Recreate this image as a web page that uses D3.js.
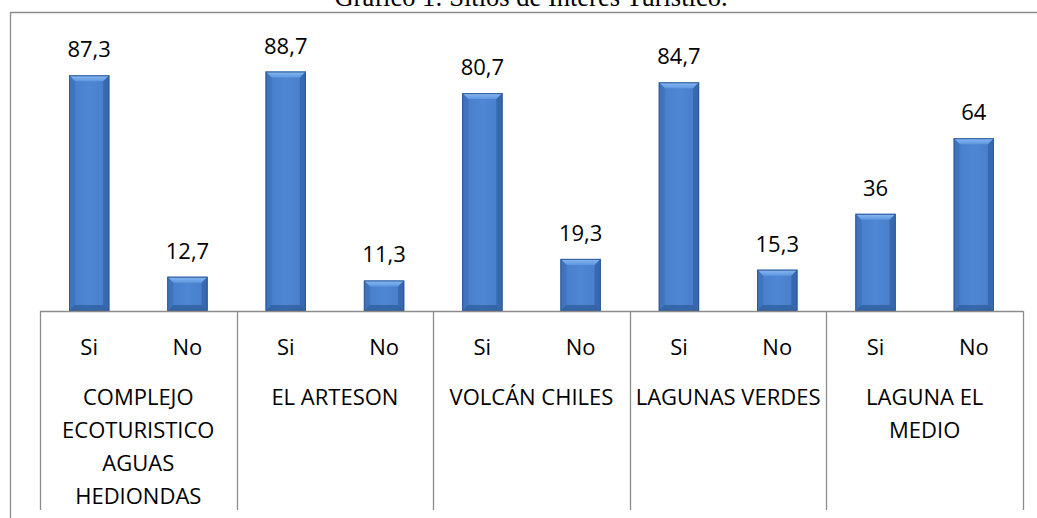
<!DOCTYPE html>
<html>
<head>
<meta charset="utf-8">
<script src="https://cdn.jsdelivr.net/npm/d3@7"></script>
<style>
  html, body { margin: 0; padding: 0; background: #fff; }
  svg { display: block; }
</style>
</head>
<body>
<svg id="chart" width="1037" height="518"></svg>
<script>
const title = "Gráfico 1: Sitios de Interés Turístico.";
const sites = ["COMPLEJO ECOTURISTICO AGUAS HEDIONDAS", "EL ARTESON", "VOLCÁN CHILES", "LAGUNAS VERDES", "LAGUNA EL MEDIO"];
const siteLabelLines = [
  ["COMPLEJO", "ECOTURISTICO", "AGUAS", "HEDIONDAS"],
  ["EL ARTESON"],
  ["VOLCÁN CHILES"],
  ["LAGUNAS VERDES"],
  ["LAGUNA EL", "MEDIO"]
];
const answers = ["Si", "No"];
const siValues = [87.3, 88.7, 80.7, 84.7, 36];
const noValues = [12.7, 11.3, 19.3, 15.3, 64];

const data = [];
sites.forEach((s, i) => {
  data.push({ site: s, answer: "Si", value: siValues[i] });
  data.push({ site: s, answer: "No", value: noValues[i] });
});

const svg = d3.select("#chart");
const W = 1037, H = 518;
const plot = { left: 40, right: 1023, top: 41, bottom: 311, axisBottom: 510 };
const fontSans = "'Open Sans', 'Noto Sans', sans-serif";
const lineColor = "#8c8c8c";

const x0 = d3.scaleBand().domain(sites).range([plot.left, plot.right]).padding(0);
const x1 = d3.scaleBand().domain(answers).range([0, x0.bandwidth()]).paddingInner(0.59).paddingOuter(0.295);
const y = d3.scaleLinear().domain([0, 100]).range([plot.bottom, plot.top]);

// gradients
const defs = svg.append("defs");
const g1 = defs.append("linearGradient").attr("id", "barGrad").attr("x1", 0).attr("x2", 1).attr("y1", 0).attr("y2", 0);
[["0%", "#3a6cb2"], ["18%", "#4a80cc"], ["50%", "#4f87d4"], ["82%", "#4a80cc"], ["100%", "#3a6cb2"]]
  .forEach(([o, c]) => g1.append("stop").attr("offset", o).attr("stop-color", c));
const g2 = defs.append("linearGradient").attr("id", "topGrad").attr("x1", 0).attr("x2", 0).attr("y1", 0).attr("y2", 1);
[["0%", "#8bbaf2"], ["100%", "#5e97e0"]].forEach(([o, c]) => g2.append("stop").attr("offset", o).attr("stop-color", c));

// frame
svg.append("line").attr("x1", 10).attr("x2", W).attr("y1", 12.5).attr("y2", 12.5).attr("stroke", lineColor).attr("stroke-width", 1.3);
svg.append("line").attr("x1", 10.5).attr("x2", 10.5).attr("y1", 12).attr("y2", H).attr("stroke", lineColor).attr("stroke-width", 1.3);

// title
svg.append("text").attr("x", 531).attr("y", 6).attr("text-anchor", "middle")
  .attr("font-family", "'Liberation Serif', 'Times New Roman', serif").attr("font-size", 26.5).attr("fill", "#000")
  .text(title);

// bars
const bev = 6;
const bars = svg.append("g").selectAll("g").data(data).join("g")
  .attr("transform", d => `translate(${x0(d.site) + x1(d.answer)},0)`);
bars.each(function(d) {
  const g = d3.select(this);
  const w = x1.bandwidth();
  const top = y(d.value), bot = y(0);
  const b = Math.min(bev, (bot - top) / 2);
  g.append("rect").attr("x", 0).attr("y", top).attr("width", w).attr("height", bot - top).attr("fill", "url(#barGrad)");
  g.append("polygon").attr("points", `0,${top} ${w},${top} ${w - b},${top + b} ${b},${top + b}`).attr("fill", "url(#topGrad)");
  g.append("polygon").attr("points", `0,${top} ${b},${top + b} ${b},${bot - b} 0,${bot}`).attr("fill", "#3f73bd").attr("opacity", 0.85);
  g.append("polygon").attr("points", `${w},${top} ${w - b},${top + b} ${w - b},${bot - b} ${w},${bot}`).attr("fill", "#3566ad").attr("opacity", 0.85);
  g.append("polygon").attr("points", `0,${bot} ${b},${bot - b} ${w - b},${bot - b} ${w},${bot}`).attr("fill", "#2f5f9f").attr("opacity", 0.8);
  g.append("rect").attr("x", 0.5).attr("y", top + 0.5).attr("width", w - 1).attr("height", bot - top - 1)
    .attr("fill", "none").attr("stroke", "#2e5a96").attr("stroke-width", 1);
});

// value labels
const fmt = v => d3.format("~r")(v).replace(".", ",");
svg.append("g").selectAll("text").data(data).join("text")
  .attr("x", d => x0(d.site) + x1(d.answer) + x1.bandwidth() / 2)
  .attr("y", d => y(d.value) - 18)
  .attr("text-anchor", "middle").attr("font-family", fontSans).attr("font-size", 22).attr("fill", "#000")
  .text(d => fmt(d.value));

// axis
svg.append("line").attr("x1", plot.left).attr("x2", plot.right).attr("y1", plot.bottom + 0.5).attr("y2", plot.bottom + 0.5)
  .attr("stroke", lineColor).attr("stroke-width", 1.3);
const dividers = sites.map(s => x0(s)).concat([plot.right]);
svg.append("g").selectAll("line").data(dividers).join("line")
  .attr("x1", d => Math.round(d) + 0.5).attr("x2", d => Math.round(d) + 0.5)
  .attr("y1", plot.bottom).attr("y2", plot.axisBottom)
  .attr("stroke", lineColor).attr("stroke-width", 1.3);

// answer labels
svg.append("g").selectAll("text").data(data).join("text")
  .attr("x", d => x0(d.site) + x1(d.answer) + x1.bandwidth() / 2)
  .attr("y", 355)
  .attr("text-anchor", "middle").attr("font-family", fontSans).attr("font-size", 22).attr("fill", "#000")
  .text(d => d.answer);

// site labels
const siteG = svg.append("g").selectAll("text").data(sites).join("text")
  .attr("text-anchor", "middle").attr("font-family", fontSans).attr("font-size", 22).attr("fill", "#000");
siteG.each(function(s, i) {
  const t = d3.select(this);
  siteLabelLines[i].forEach((ln, j) => {
    t.append("tspan").attr("x", x0(s) + x0.bandwidth() / 2).attr("y", 405 + j * 33).text(ln);
  });
});
</script>
</body>
</html>
